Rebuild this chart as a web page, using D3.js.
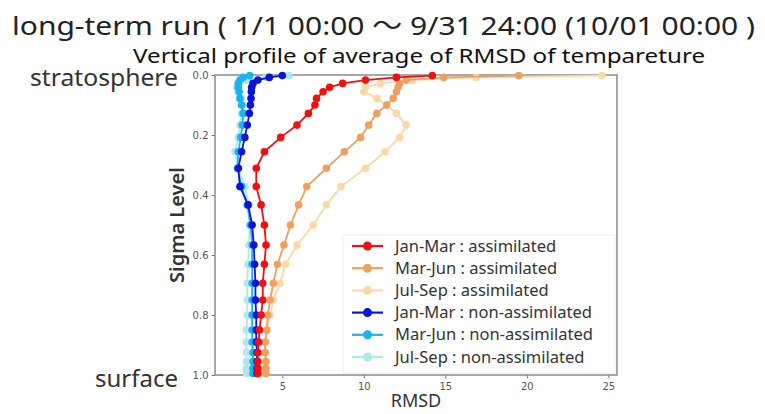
<!DOCTYPE html>
<html>
<head>
<meta charset="utf-8">
<script src="https://cdn.jsdelivr.net/npm/d3@7"></script>
<style>
  body { margin: 0; background: #fff; }
  text { font-family: "Noto Sans", "DejaVu Sans", sans-serif; }
</style>
</head>
<body>
<div id="chart"></div>
<script>
// sigma levels (shared by every profile)
const levels = [0.002, 0.008, 0.017, 0.028, 0.041, 0.056, 0.078, 0.10, 0.128, 0.167, 0.208, 0.256,
                0.311, 0.372, 0.433, 0.50, 0.567, 0.631, 0.694, 0.75, 0.80, 0.85, 0.89, 0.925,
                0.955, 0.978, 0.995];

// RMSD per level
const janMarAssim = [14.2, 12.0, 10.1, 8.7, 7.9, 7.5, 7.1, 7.0, 6.6, 5.9, 4.9, 3.9,
                     3.4, 3.4, 3.7, 3.9, 4.0, 3.9, 3.8, 3.8, 3.7, 3.6, 3.55, 3.5, 3.5, 3.5, 3.5];
const marJunAssim = [19.5, 14.9, 12.6, 12.2, 12.1, 12.0, 11.8, 11.4, 10.8, 10.3, 9.8, 8.8,
                     7.7, 6.5, 6.0, 5.5, 5.1, 4.7, 4.45, 4.25, 4.1, 4.05, 3.95, 3.95, 4.0, 4.0, 4.0];
const julSepAssim = [24.6, 16.9, 13.0, 11.0, 10.1, 10.0, 10.8, 11.4, 12.0, 12.6, 12.2, 11.3,
                     10.1, 8.6, 7.7, 6.9, 5.9, 5.2, 4.85, 4.45, 4.25, 4.05, 3.95, 3.9, 3.9, 3.85, 3.85];
const janMarNon   = [5.0, 4.2, 3.5, 3.2, 3.12, 3.1, 3.08, 3.04, 2.98, 2.85, 2.7, 2.5,
                     2.3, 2.4, 2.9, 3.15, 3.25, 3.3, 3.35, 3.35, 3.4, 3.4, 3.4, 3.45, 3.45, 3.45, 3.45];
const marJunNon   = [3.0, 2.6, 2.4, 2.3, 2.3, 2.35, 2.4, 2.5, 2.6, 2.55, 2.45, 2.3,
                     2.25, 2.5, 2.85, 3.05, 3.15, 3.15, 3.15, 3.15, 3.15, 3.15, 3.15, 3.2, 3.2, 3.2, 3.2];
const julSepNon   = [5.4, 4.0, 2.8, 2.3, 2.2, 2.3, 2.45, 2.55, 2.5, 2.4, 2.3, 2.1,
                     2.3, 2.7, 2.95, 3.0, 2.95, 2.9, 2.85, 2.85, 2.85, 2.8, 2.8, 2.8, 2.8, 2.8, 2.8];

const seriesNames = ["Jan-Mar : assimilated", "Mar-Jun : assimilated", "Jul-Sep : assimilated",
                     "Jan-Mar : non-assimilated", "Mar-Jun : non-assimilated", "Jul-Sep : non-assimilated"];
const seriesValues = [janMarAssim, marJunAssim, julSepAssim, janMarNon, marJunNon, julSepNon];
const seriesColors = ["#f01010", "#eea060", "#fbd8a6", "#0a14d8", "#18b4f0", "#b0e6ee"];

const xTicks = [5, 10, 15, 20, 25];
const yTicks = [0.0, 0.2, 0.4, 0.6, 0.8, 1.0];

{
  const W = 765, H = 414;
  const margin = {top: 75, right: 148, bottom: 39, left: 215},
        width = W - margin.left - margin.right,
        height = H - margin.top - margin.bottom;

  const root = d3.select("#chart").append("svg")
      .attr("width", W)
      .attr("height", H);

  // titles
  root.append("text")
      .attr("x", 12).attr("y", 35)
      .attr("textLength", 743).attr("lengthAdjust", "spacingAndGlyphs")
      .style("font", "26px 'Noto Sans', 'Noto Sans CJK JP', sans-serif")
      .style("fill", "#222")
      .text("long-term run ( 1/1 00:00 ～ 9/31 24:00  (10/01 00:00 )");
  root.append("text")
      .attr("x", 133).attr("y", 63)
      .attr("textLength", 572).attr("lengthAdjust", "spacingAndGlyphs")
      .style("font", "20px 'Noto Sans', sans-serif")
      .style("fill", "#111")
      .text("Vertical profile of average of RMSD of tempareture");
  root.append("text")
      .attr("x", 178).attr("y", 86).attr("text-anchor", "end")
      .attr("textLength", 148).attr("lengthAdjust", "spacingAndGlyphs")
      .style("font", "23px 'Noto Sans', sans-serif")
      .style("fill", "#333")
      .text("stratosphere");
  root.append("text")
      .attr("x", 178).attr("y", 387).attr("text-anchor", "end")
      .attr("textLength", 83).attr("lengthAdjust", "spacingAndGlyphs")
      .style("font", "23px 'Noto Sans', sans-serif")
      .style("fill", "#333")
      .text("surface");

  const svg = root.append("g")
      .attr("transform", "translate(" + margin.left + "," + margin.top + ")");

  const x = d3.scaleLinear().domain([0.87, 25.53]).range([0, width]);
  const y = d3.scaleLinear().domain([0, 1]).range([0, height]);

  // axes
  const gx = svg.append("g")
      .attr("transform", "translate(0," + height + ")")
      .call(d3.axisBottom(x).tickValues(xTicks).tickSize(3.5).tickPadding(4));
  const gy = svg.append("g")
      .call(d3.axisLeft(y).tickValues(yTicks).tickFormat(d3.format(".1f")).tickSize(3.5).tickPadding(3));
  [gx, gy].forEach(g => {
    g.select(".domain").remove();
    g.selectAll("line").attr("stroke", "#777");
    g.selectAll("text").style("font", "10px 'DejaVu Sans', sans-serif").style("fill", "#555");
  });

  // frame
  svg.append("rect")
      .attr("width", width).attr("height", height)
      .attr("fill", "none").attr("stroke", "#8a8a8a").attr("stroke-width", 1.5);

  const line = d3.line().x(d => x(d[0])).y(d => y(d[1]));

  // draw back to front so that the red line sits on top like the original
  const order = [2, 1, 5, 4, 3, 0];
  order.forEach(i => {
    const pts = seriesValues[i].map((v, k) => [v, levels[k]]);
    svg.append("path")
        .datum(pts)
        .attr("d", line)
        .attr("fill", "none")
        .attr("stroke", seriesColors[i])
        .attr("stroke-width", 1.8);
    svg.selectAll(null)
        .data(pts)
        .enter().append("circle")
        .attr("cx", d => x(d[0]))
        .attr("cy", d => y(d[1]))
        .attr("r", 3.8)
        .attr("fill", seriesColors[i]);
  });

  // legend
  const leg = svg.append("g").attr("transform", "translate(128,160)");
  leg.append("rect")
      .attr("x", 0).attr("y", 0).attr("width", 272).attr("height", 138)
      .attr("fill", "#fff").attr("fill-opacity", 0.85)
      .attr("stroke", "#eee");
  seriesNames.forEach((name, i) => {
    const ly = 11 + i * 22.2;
    leg.append("line")
        .attr("x1", 9).attr("x2", 40).attr("y1", ly).attr("y2", ly)
        .attr("stroke", seriesColors[i]).attr("stroke-width", 2.2);
    leg.append("circle")
        .attr("cx", 24.5).attr("cy", ly).attr("r", 4.5)
        .attr("fill", seriesColors[i]);
    leg.append("text")
        .attr("x", 52).attr("y", ly + 5.5)
        .style("font", "16.5px 'Noto Sans', sans-serif")
        .style("fill", "#333")
        .text(name);
  });

  // axis titles
  root.append("text")
      .attr("transform", "translate(184," + (margin.top + 150) + ")rotate(-90)")
      .attr("text-anchor", "middle")
      .style("font", "600 20px 'Noto Sans', sans-serif")
      .style("fill", "#333")
      .text("Sigma Level");
  root.append("text")
      .attr("x", 416).attr("y", 407)
      .attr("text-anchor", "middle")
      .style("font", "18px 'Noto Sans', sans-serif")
      .style("fill", "#333")
      .text("RMSD");
}
</script>
</body>
</html>
